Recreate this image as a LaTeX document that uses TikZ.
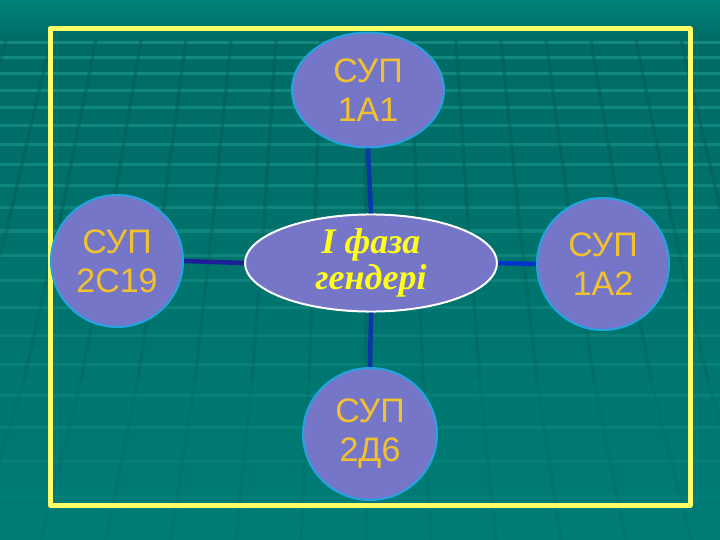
\documentclass[tikz,border=0pt]{standalone}
\usepackage{fontspec}
\setmainfont{Liberation Sans}
\newfontfamily\serifbi{Liberation Serif}
\usetikzlibrary{shapes.geometric}
\definecolor{bgtop}{HTML}{00817A}
\definecolor{bgmid}{HTML}{006B65}
\definecolor{bgbot}{HTML}{007C76}
\definecolor{stripecol}{HTML}{1A978C}
\definecolor{perspcol}{HTML}{005A55}
\definecolor{framecol}{HTML}{FFFF66}
\definecolor{nodefill}{HTML}{7676C8}
\definecolor{nodeborder}{HTML}{22A4E0}
\definecolor{nodetext}{HTML}{F2C12E}
\definecolor{centertext}{HTML}{FFFF1A}
\definecolor{linkv}{HTML}{0A36A6}
\definecolor{linkl}{HTML}{1E1E96}
\definecolor{linkr}{HTML}{0033CC}
\tikzset{
  stripe/.style={stripecol, line width=3pt},
  persp/.style={perspcol, line width=3.5pt},
  frame/.style={framecol, line width=5pt, line join=round},
  supnode/.style={ellipse, draw=nodeborder, line width=2pt, fill=nodefill,
    inner sep=0pt, align=center, text=nodetext,
    font=\fontsize{34}{39}\selectfont},
  phasenode/.style={ellipse, draw=white, line width=2pt, fill=nodefill,
    inner sep=0pt, align=center, text=centertext,
    font=\serifbi\bfseries\itshape\fontsize{36}{36}\selectfont},
  link/.style={line width=4.5pt}
}
\begin{document}
\begin{tikzpicture}[x=1pt,y=-1pt]
\useasboundingbox (0,0) rectangle (720,540);
% background
\begin{scope}
\clip (0,0) rectangle (720,540);
\shade[top color=bgtop, bottom color=bgmid] (0,0) rectangle (720,40);
\shade[top color=bgmid, bottom color=bgbot] (0,40) rectangle (720,540);
\foreach \yy/\op in {43/0.7,58/0.7,74/0.7,91/0.68,108/0.66,126/0.64,145/0.62,165/0.6,186/0.58,208/0.55,231/0.52,255/0.5,280/0.46,307/0.42,335/0.38,364/0.34,395/0.3,427/0.26,461/0.22,496/0.15}
  \draw[stripe, opacity=\op] (0,\yy) -- (720,\yy);
\foreach \i in {-9,...,9} {
  \draw[persp, opacity=0.45] ({366+\i*45},40) -- ({366+\i*51},220);
  \draw[persp, opacity=0.3] ({366+\i*51},220) -- ({366+\i*57},380);
  \draw[persp, opacity=0.15] ({366+\i*57},380) -- ({366+\i*65},540);
}
\end{scope}
% frame
\draw[frame] (50,29) rectangle (690,505);
% nodes
\node[phasenode, minimum width=252pt, minimum height=93pt] (center) at (371,263) {I фаза\\гендері};
\node[supnode, minimum width=152pt, minimum height=115pt] (top) at (368,90) {СУП\\1А1};
\node[supnode, minimum width=132pt, minimum height=132pt] (left) at (117,261) {СУП\\2С19};
\node[supnode, minimum width=132pt, minimum height=132pt] (right) at (603,264) {СУП\\1А2};
\node[supnode, minimum width=134pt, minimum height=132pt] (bottom) at (370,434) {СУП\\2Д6};
% connectors
\draw[link, linkv] (top.south) -- (center.north);
\draw[link, linkv] (center.south) -- (bottom.north);
\draw[link, linkl] (left.east) -- (center.west);
\draw[link, linkr] (center.east) -- (right.west);
\end{tikzpicture}
\end{document}
